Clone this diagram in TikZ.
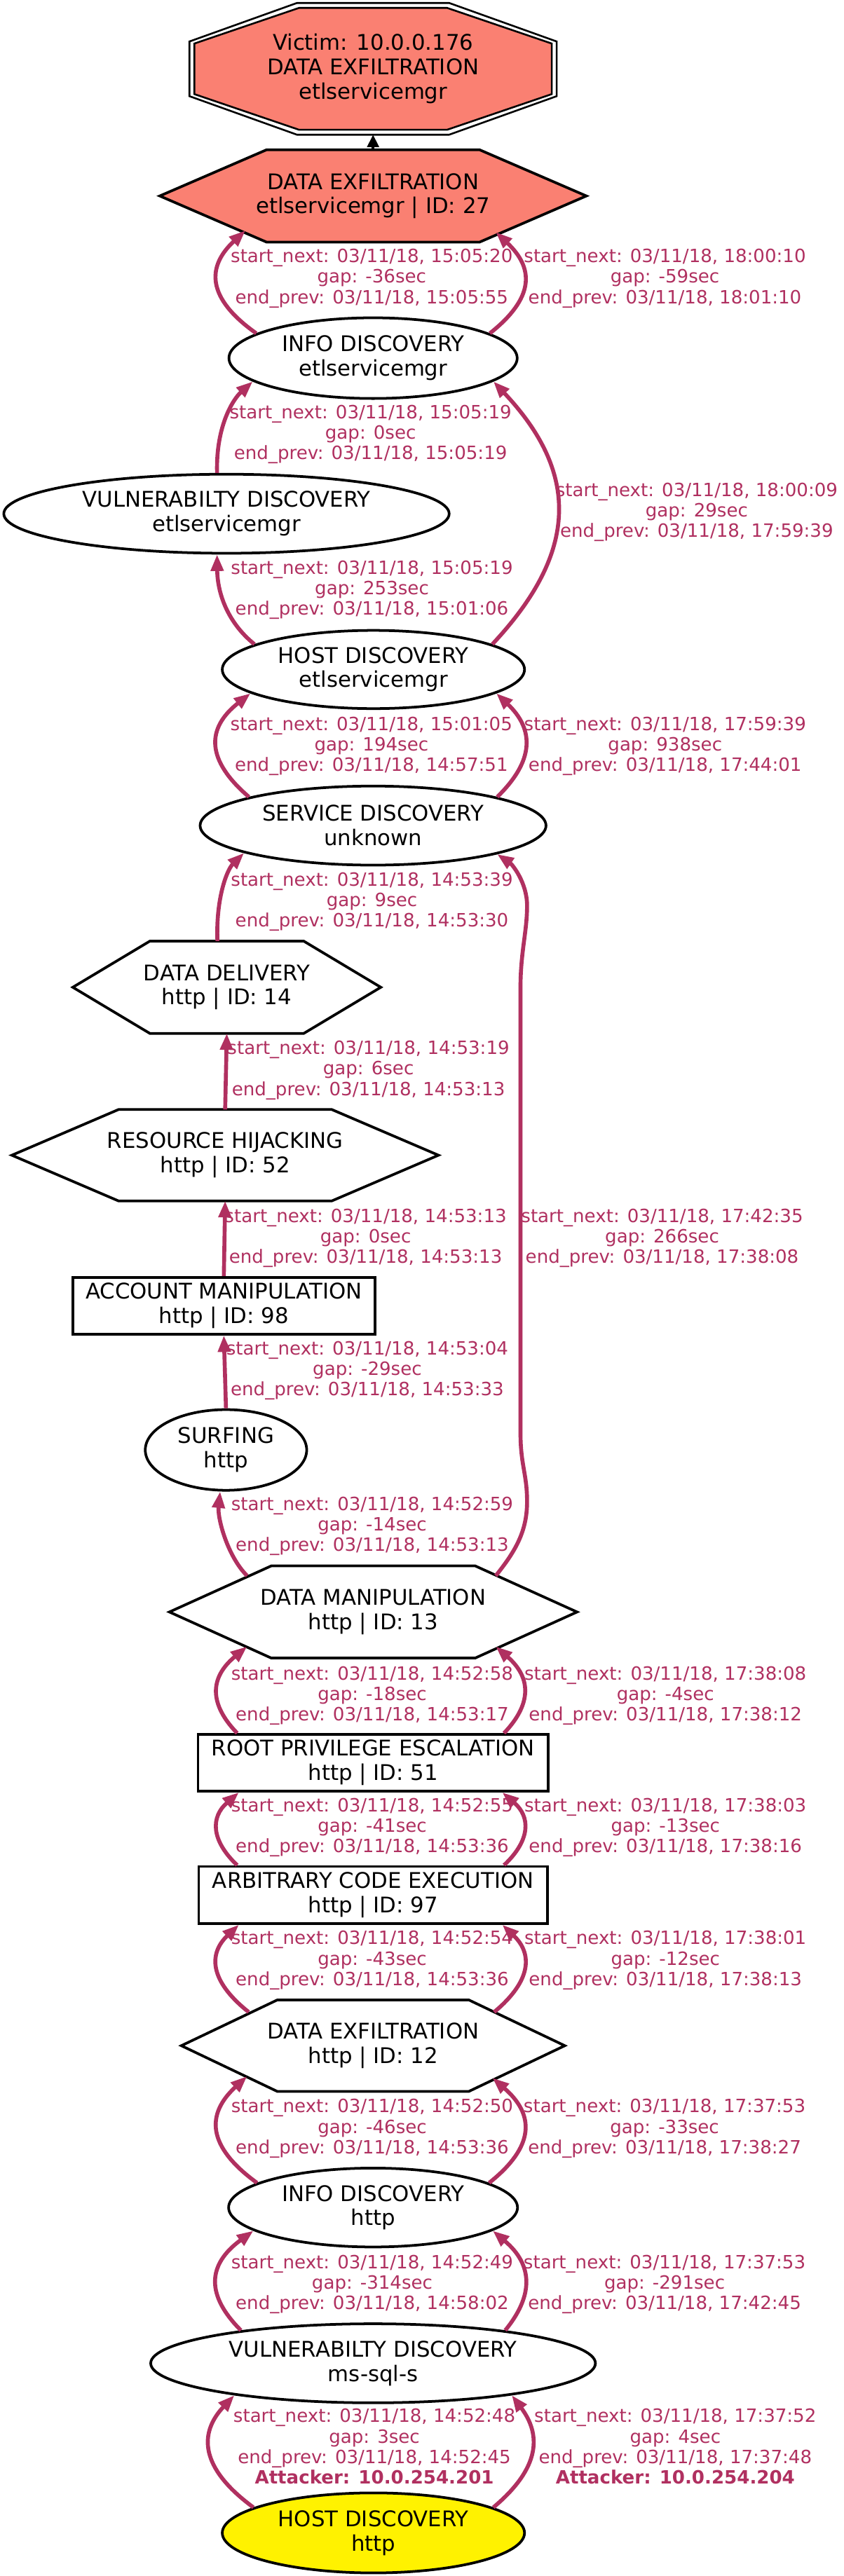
\documentclass[tikz,border=0pt]{standalone}
\usepackage{fontspec}
\setmainfont{DejaVu Sans}
\usetikzlibrary{arrows.meta,shapes.geometric,backgrounds,calc}
\definecolor{edgecol}{HTML}{B03060}
\definecolor{salmonc}{HTML}{FA8072}
\newcommand\nodefont{\fontsize{13.1}{14.8}\selectfont}
\newcommand\labfont{\fontsize{11.1}{12.4}\selectfont}
\newcommand\drawhex[4]{\draw[nodeline,fill=#4,shift={(#1.center)}] ({-(#2)/2},0) -- ({-(#2)/4},{-(#3)/2}) -- ({(#2)/4},{-(#3)/2}) -- ({(#2)/2},0) -- ({(#2)/4},{(#3)/2}) -- ({-(#2)/4},{(#3)/2}) -- cycle;}
\tikzset{
 nodeline/.style={draw=black, line width=1.6pt},
 ell/.style={ellipse, nodeline, inner sep=0pt, align=center, font=\nodefont},
 box/.style={rectangle, nodeline, inner sep=0pt, align=center, font=\nodefont},
 hexbox/.style={rectangle, draw=none, inner sep=0pt, outer sep=0pt, align=center, font=\nodefont},
 conn/.style={draw=edgecol, line width=2.4pt, -{Triangle[length=10pt,width=7.5pt]}},
 lab/.style={text=edgecol, align=center, font=\labfont, inner sep=0pt},
}
\begin{document}
\begin{tikzpicture}[x=1pt,y=-1pt]
\useasboundingbox (0,0) rectangle (512,1564.5);
% nodes
\node[hexbox, minimum width=223pt, minimum height=80pt] (victim) at (226.5,41.8) {Victim: 10.0.0.176\\DATA EXFILTRATION\\etlservicemgr};
\node[hexbox, minimum width=259pt, minimum height=56pt] (de27) at (226.5,119) {DATA EXFILTRATION\\etlservicemgr | ID: 27};
\node[ell, minimum width=175pt, minimum height=49pt] (infoE) at (226.5,217.5) {INFO DISCOVERY\\etlservicemgr};
\node[ell, minimum width=270.4pt, minimum height=48pt] (vulnE) at (137.5,312) {VULNERABILTY DISCOVERY\\etlservicemgr};
\node[ell, minimum width=183.5pt, minimum height=47.5pt] (hostE) at (226.7,406.6) {HOST DISCOVERY\\etlservicemgr};
\node[ell, minimum width=210pt, minimum height=48pt] (svc) at (226.5,501.4) {SERVICE DISCOVERY\\unknown};
\node[hexbox, minimum width=187pt, minimum height=56pt] (dd14) at (137.7,599.6) {DATA DELIVERY\\http | ID: 14};
\node[hexbox, minimum width=259pt, minimum height=55.5pt] (rh52) at (136.7,701.6) {RESOURCE HIJACKING\\http | ID: 52};
\node[box, minimum width=183.5pt, minimum height=34.5pt] (acct98) at (135.9,793) {ACCOUNT MANIPULATION\\http | ID: 98};
\node[ell, minimum width=98pt, minimum height=49pt] (surf) at (137.2,880.6) {SURFING\\http};
\node[hexbox, minimum width=247.5pt, minimum height=56pt] (dm13) at (226.6,979) {DATA MANIPULATION\\http | ID: 13};
\node[box, minimum width=212.6pt, minimum height=34.4pt] (rpe51) at (226.5,1070.6) {ROOT PRIVILEGE ESCALATION\\http | ID: 51};
\node[box, minimum width=211.7pt, minimum height=34.6pt] (ace97) at (226.5,1150.9) {ARBITRARY CODE EXECUTION\\http | ID: 97};
\node[hexbox, minimum width=232.8pt, minimum height=55.5pt] (de12) at (226.5,1242.4) {DATA EXFILTRATION\\http | ID: 12};
\node[ell, minimum width=175.4pt, minimum height=47.9pt] (infoH) at (226.5,1340.7) {INFO DISCOVERY\\http};
\node[ell, minimum width=270pt, minimum height=48pt] (vulnH) at (226.5,1435.3) {VULNERABILTY DISCOVERY\\ms-sql-s};
\node[ell, fill=yellow, minimum width=183.5pt, minimum height=48.6pt] (hostH) at (226.7,1538.3) {HOST DISCOVERY\\http};
% polygon outlines
\begin{scope}[on background layer]
\fill[white] (0,0) rectangle (512,1564.5);
\draw[line width=1.1pt, shift={(victim.center)}] (-111.5,-16.6) -- (-46.2,-40) -- (46.2,-40) -- (111.5,-16.6) -- (111.5,16.6) -- (46.2,40) -- (-46.2,40) -- (-111.5,16.6) -- cycle;
\draw[line width=1.1pt, fill=salmonc, shift={(victim.center)}, xscale=0.973, yscale=0.925] (-111.5,-16.6) -- (-46.2,-40) -- (46.2,-40) -- (111.5,-16.6) -- (111.5,16.6) -- (46.2,40) -- (-46.2,40) -- (-111.5,16.6) -- cycle;
\drawhex{de27}{259}{56}{salmonc}
\drawhex{dd14}{187}{56}{white}
\drawhex{rh52}{259}{55.5}{white}
\drawhex{dm13}{247.5}{56}{white}
\drawhex{de12}{232.8}{55.5}{white}
\end{scope}
% connectors
\draw[black, line width=1.6pt, -{Triangle[length=7.5pt,width=7pt]}] (de27.north) -- (victim.south);
\draw[conn] (infoE.168) .. controls (125.3,181) and (125.3,162) .. ($(de27.center)+(-77.5,21)$);
\draw[conn] (infoE.12) .. controls (324.5,181) and (324.5,163) .. ($(de27.center)+(74.5,22)$);
\draw[conn] (vulnE.103) .. controls (131,258) and (142,242) .. (infoE.191);
\draw[conn] (hostE.12) .. controls (351.7,335) and (351.7,287) .. (infoE.349);
\draw[conn] (hostE.168) .. controls (138,378) and (132,360) .. (vulnE.257);
\draw[conn] (svc.167) .. controls (125,461.6) and (125,442.4) .. (hostE.191);
\draw[conn] (svc.13) .. controls (324.5,462) and (324.5,443) .. (hostE.349);
\draw[conn] ($(dd14.center)+(-5.7,-28)$) .. controls (131,545) and (138,528) .. (svc.192);
\draw[conn] ($(dm13.center)+(74.4,-22)$) .. controls (313,942) and (320,930) .. (320,912) .. controls (320,895) and (316,890) .. (316,870) -- (316,600) .. controls (316,578) and (320,566) .. (320,550) .. controls (320,536) and (311,525) .. (svc.347);
\draw[conn] (rh52.north) -- (dd14.south);
\draw[conn] (acct98.north) -- (rh52.south);
\draw[conn] (surf.north) -- (acct98.south);
\draw[conn] ($(dm13.center)+(-76.6,-22)$) .. controls (138,945) and (132,922) .. (surf.262);
\draw[conn] ($(rpe51.north)+(-82.5,0)$) .. controls (127,1035) and (127,1019) .. ($(dm13.center)+(-76.6,21)$);
\draw[conn] ($(rpe51.north)+(79.5,0)$) .. controls (322.8,1035) and (322.8,1019) .. ($(dm13.center)+(74.4,21)$);
\draw[conn] ($(ace97.north)+(-82.5,0)$) .. controls (127.9,1117.5) and (127.9,1103.5) .. ($(rpe51.south)+(-81.5,0)$);
\draw[conn] ($(ace97.north)+(79.5,0)$) .. controls (322.2,1117.5) and (322.2,1103.5) .. ($(rpe51.south)+(78.5,0)$);
\draw[conn] ($(de12.center)+(-75.5,-20.4)$) .. controls (126.7,1202.7) and (126.7,1186.3) .. ($(ace97.south)+(-81.5,0)$);
\draw[conn] ($(de12.center)+(73.5,-20.4)$) .. controls (323.2,1202.7) and (323.2,1186.3) .. ($(ace97.south)+(78.5,0)$);
\draw[conn] (infoH.168) .. controls (125.2,1303.3) and (125.2,1283.8) .. ($(de12.center)+(-76.5,18.6)$);
\draw[conn] (infoH.12) .. controls (324.8,1303.6) and (324.8,1284.4) .. ($(de12.center)+(72.5,19.6)$);
\draw[conn] (vulnH.166) .. controls (125.3,1394.3) and (125.3,1375.7) .. (infoH.191);
\draw[conn] (vulnH.14) .. controls (323.9,1394.3) and (323.9,1375.7) .. (infoH.349);
\draw[conn] (hostH.168) .. controls (120.8,1498.5) and (120.8,1477.5) .. (vulnH.193);
\draw[conn] (hostH.12) .. controls (328.5,1498.5) and (328.5,1478.5) .. (vulnH.347);
% labels
\node[lab] (la1) at (225.7,169.1) {start\_next: 03/11/18, 15:05:20\\gap: -36sec\\end\_prev: 03/11/18, 15:05:55};
\node[lab] (lb1) at (403.7,169.1) {start\_next: 03/11/18, 18:00:10\\gap: -59sec\\end\_prev: 03/11/18, 18:01:10};
\node[lab] (la2) at (225,263.7) {start\_next: 03/11/18, 15:05:19\\gap: 0sec\\end\_prev: 03/11/18, 15:05:19};
\node[lab] (lb2) at (423,311.2) {start\_next: 03/11/18, 18:00:09\\gap: 29sec\\end\_prev: 03/11/18, 17:59:39};
\node[lab] (la3) at (225.8,358.3) {start\_next: 03/11/18, 15:05:19\\gap: 253sec\\end\_prev: 03/11/18, 15:01:06};
\node[lab] (la4) at (225.5,453.3) {start\_next: 03/11/18, 15:01:05\\gap: 194sec\\end\_prev: 03/11/18, 14:57:51};
\node[lab] (lb3) at (403.8,453.3) {start\_next: 03/11/18, 17:59:39\\gap: 938sec\\end\_prev: 03/11/18, 17:44:01};
\node[lab] (la5) at (225.8,547.7) {start\_next: 03/11/18, 14:53:39\\gap: 9sec\\end\_prev: 03/11/18, 14:53:30};
\node[lab] (la6) at (223.7,650) {start\_next: 03/11/18, 14:53:19\\gap: 6sec\\end\_prev: 03/11/18, 14:53:13};
\node[lab] (la7) at (222,752) {start\_next: 03/11/18, 14:53:13\\gap: 0sec\\end\_prev: 03/11/18, 14:53:13};
\node[lab] (lb4) at (402,752) {start\_next: 03/11/18, 17:42:35\\gap: 266sec\\end\_prev: 03/11/18, 17:38:08};
\node[lab] (la8) at (223,832.3) {start\_next: 03/11/18, 14:53:04\\gap: -29sec\\end\_prev: 03/11/18, 14:53:33};
\node[lab] (la9) at (226,926.8) {start\_next: 03/11/18, 14:52:59\\gap: -14sec\\end\_prev: 03/11/18, 14:53:13};
\node[lab] (la10) at (226,1029.8) {start\_next: 03/11/18, 14:52:58\\gap: -18sec\\end\_prev: 03/11/18, 14:53:17};
\node[lab] (lb5) at (404,1029.8) {start\_next: 03/11/18, 17:38:08\\gap: -4sec\\end\_prev: 03/11/18, 17:38:12};
\node[lab] (la11) at (226,1109.8) {start\_next: 03/11/18, 14:52:55\\gap: -41sec\\end\_prev: 03/11/18, 14:53:36};
\node[lab] (lb6) at (404,1109.8) {start\_next: 03/11/18, 17:38:03\\gap: -13sec\\end\_prev: 03/11/18, 17:38:16};
\node[lab] (la12) at (226,1190.6) {start\_next: 03/11/18, 14:52:54\\gap: -43sec\\end\_prev: 03/11/18, 14:53:36};
\node[lab] (lb7) at (404,1190.6) {start\_next: 03/11/18, 17:38:01\\gap: -12sec\\end\_prev: 03/11/18, 17:38:13};
\node[lab] (la13) at (226,1292.7) {start\_next: 03/11/18, 14:52:50\\gap: -46sec\\end\_prev: 03/11/18, 14:53:36};
\node[lab] (lb8) at (403.5,1292.7) {start\_next: 03/11/18, 17:37:53\\gap: -33sec\\end\_prev: 03/11/18, 17:38:27};
\node[lab] (la14) at (226,1387.3) {start\_next: 03/11/18, 14:52:49\\gap: -314sec\\end\_prev: 03/11/18, 14:58:02};
\node[lab] (lb9) at (403.5,1387.3) {start\_next: 03/11/18, 17:37:53\\gap: -291sec\\end\_prev: 03/11/18, 17:42:45};
\node[lab] (la15) at (227.3,1485.8) {start\_next: 03/11/18, 14:52:48\\gap: 3sec\\end\_prev: 03/11/18, 14:52:45\\\textbf{Attacker: 10.0.254.201}};
\node[lab] (lb10) at (410,1485.8) {start\_next: 03/11/18, 17:37:52\\gap: 4sec\\end\_prev: 03/11/18, 17:37:48\\\textbf{Attacker: 10.0.254.204}};
\end{tikzpicture}
\end{document}
